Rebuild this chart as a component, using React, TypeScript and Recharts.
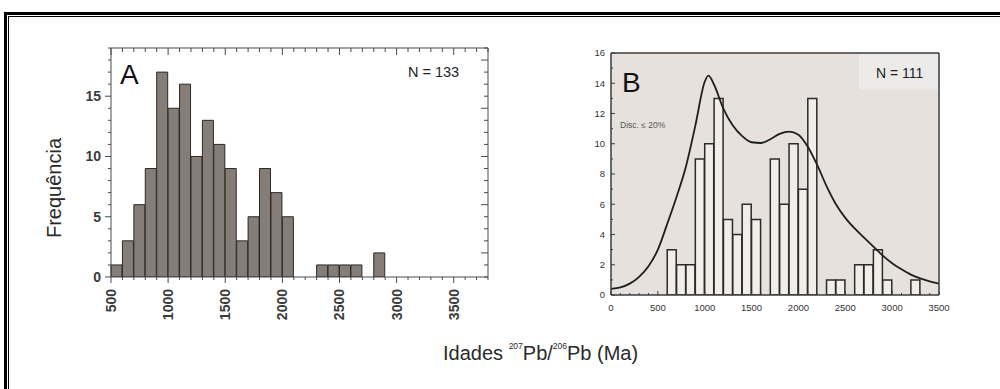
import React from "react";
import { ComposedChart, Bar, Line, XAxis, YAxis, CartesianGrid } from "recharts";

const FONT = "'Liberation Sans', Arial, Helvetica, sans-serif";

// Painel A: classes de 100 Ma a partir de 500 Ma
const binStartsA = [
  500, 600, 700, 800, 900, 1000, 1100, 1200, 1300, 1400, 1500, 1600, 1700, 1800, 1900, 2000, 2100,
  2200, 2300, 2400, 2500, 2600, 2700, 2800, 2900, 3000, 3100, 3200, 3300, 3400, 3500, 3600, 3700,
];
const countsA = [
  1, 3, 6, 9, 17, 14, 16, 10, 13, 11, 9, 3, 5, 9, 7, 5, 0,
  0, 1, 1, 1, 1, 0, 2, 0, 0, 0, 0, 0, 0, 0, 0, 0,
];
const xLabelsA = [500, 1000, 1500, 2000, 2500, 3000, 3500];
const yLabelsA = [0, 5, 10, 15];

// Painel B: classes de 100 Ma a partir de 0
const binStartsB = [
  0, 100, 200, 300, 400, 500, 600, 700, 800, 900, 1000, 1100, 1200, 1300, 1400, 1500, 1600, 1700,
  1800, 1900, 2000, 2100, 2200, 2300, 2400, 2500, 2600, 2700, 2800, 2900, 3000, 3100, 3200, 3300, 3400,
];
const countsB = [
  0, 0, 0, 0, 0, 0, 3, 2, 2, 9, 10, 13, 5, 4, 6, 5, 0, 9,
  6, 10, 7, 13, 0, 1, 1, 0, 2, 2, 3, 1, 0, 0, 1, 0, 0,
];
// curva de densidade de probabilidade (escalada)
const curveAges = [
  0, 100, 200, 300, 400, 500, 600, 700, 800, 900, 1000, 1040, 1100, 1200, 1300, 1400, 1500, 1600,
  1700, 1800, 1900, 2000, 2100, 2200, 2300, 2400, 2500, 2600, 2700, 2800, 2900, 3000, 3100, 3200,
  3300, 3400, 3500,
];
const curveFreq = [
  0.4, 0.5, 0.75, 1.2, 1.9, 3.0, 4.7, 6.5, 8.5, 11.2, 14.1, 14.5, 13.9, 12.3, 11.2, 10.5, 10.1, 10.05,
  10.3, 10.65, 10.8, 10.6, 9.8, 8.6, 7.2, 6.0, 5.1, 4.4, 3.8, 3.2, 2.6, 2.1, 1.7, 1.35,
  1.1, 0.9, 0.75,
];
const xLabelsB = [0, 500, 1000, 1500, 2000, 2500, 3000, 3500];
const yLabelsB = [0, 2, 4, 6, 8, 10, 12, 14, 16];

const dataA = binStartsA.map((b, i) => ({ bin: b, count: countsA[i] }));
const dataB = binStartsB.map((b, i) => ({ bin: b, count: countsB[i] }));
const curveB = curveAges.map((a, i) => ({ age: a, freq: curveFreq[i] }));

const steps = (from: number, to: number, step: number) =>
  Array.from({ length: Math.round((to - from) / step) + 1 }, (_, i) => from + i * step);

const yMinorA = steps(0, 19, 1);
const xMinorB = steps(0, 3500, 100);
const yMinorB = steps(0, 16, 1);

// layout do painel A (px)
const A_W = 500;
const A_H = 340;
const A_LEFT = 111;
const A_TOP = 48;
const A_PLOT_W = 377;
const A_PLOT_H = 229;
const A_BAND = A_PLOT_W / binStartsA.length;

const AXIS_A = "#4a4a4a";
const AXIS_B = "#3d3d3d";

// tick da classe: desenhado no limite esquerdo da classe (em baixo e em cima)
function BinTickA({ x, y, payload, index }: any) {
  const v = payload.value;
  const edges = [{ v, px: x - A_BAND / 2 }];
  if (index === binStartsA.length - 1) edges.push({ v: v + 100, px: x + A_BAND / 2 });
  const top = y - A_PLOT_H;
  return (
    <g>
      {edges.map((e) => {
        const major = e.v % 500 === 0;
        return (
          <g key={e.v}>
            <line x1={e.px} x2={e.px} y1={y} y2={y + (major ? 6 : 3)} stroke={AXIS_A} />
            <line x1={e.px} x2={e.px} y1={top} y2={top + (major ? 7 : 4)} stroke={AXIS_A} />
            {xLabelsA.includes(e.v) && (
              <text
                transform={`translate(${e.px + 5},${y + 12}) rotate(-90)`}
                textAnchor="end"
                fontSize={14}
                fontWeight="bold"
                fill="#3a3a3a"
                fontFamily={FONT}
              >
                {e.v}
              </text>
            )}
          </g>
        );
      })}
    </g>
  );
}

function LeftTickA({ x, y, payload }: any) {
  const major = yLabelsA.includes(payload.value);
  const right = x + A_PLOT_W;
  const rightMajor = payload.value % 4 === 2;
  return (
    <g>
      <line x1={x} x2={x - (major ? 6 : 3)} y1={y} y2={y} stroke={AXIS_A} />
      <line x1={right} x2={right - (rightMajor ? 7 : 4)} y1={y} y2={y} stroke={AXIS_A} />
      {major && (
        <text x={x - 10} y={y + 5} textAnchor="end" fontSize={14} fontWeight="bold" fill="#3a3a3a" fontFamily={FONT}>
          {payload.value}
        </text>
      )}
    </g>
  );
}

function BottomTickB({ x, y, payload }: any) {
  const major = xLabelsB.includes(payload.value);
  return (
    <g>
      <line x1={x} x2={x} y1={y} y2={y - (major ? 4 : 2)} stroke={AXIS_B} />
      {major && (
        <text x={x} y={y + 16} textAnchor="middle" fontSize={9.5} fill="#333" fontFamily={FONT}>
          {payload.value}
        </text>
      )}
    </g>
  );
}

function LeftTickB({ x, y, payload }: any) {
  const major = yLabelsB.includes(payload.value);
  return (
    <g>
      <line x1={x} x2={x + (major ? 4 : 2)} y1={y} y2={y} stroke={AXIS_B} />
      {major && (
        <text x={x - 6} y={y + 3.4} textAnchor="end" fontSize={9.5} fill="#333" fontFamily={FONT}>
          {payload.value}
        </text>
      )}
    </g>
  );
}

function PanelA() {
  return (
    <ComposedChart
      width={A_W}
      height={A_H}
      data={dataA}
      barCategoryGap={0}
      barGap={0}
      margin={{ top: A_TOP - 10, right: A_W - A_LEFT - A_PLOT_W - 10, bottom: A_H - A_TOP - A_PLOT_H - 40, left: A_LEFT - 40 }}
    >
      <XAxis
        xAxisId="cat"
        dataKey="bin"
        type="category"
        interval={0}
        height={40}
        tickSize={0}
        tickMargin={0}
        tickLine={false}
        axisLine={{ stroke: AXIS_A }}
        tick={(p: any) => <BinTickA {...p} />}
      />
      <XAxis xAxisId="top" orientation="top" type="number" domain={[500, 3800]} height={10} tick={false} tickLine={false} axisLine={{ stroke: AXIS_A }} />
      <YAxis
        yAxisId="left"
        type="number"
        domain={[0, 19]}
        allowDataOverflow
        ticks={yMinorA}
        interval={0}
        width={40}
        tickSize={0}
        tickMargin={0}
        tickLine={false}
        axisLine={{ stroke: AXIS_A }}
        tick={(p: any) => <LeftTickA {...p} />}
      />
      <YAxis yAxisId="right" orientation="right" type="number" domain={[0, 19]} width={10} tick={false} tickLine={false} axisLine={{ stroke: AXIS_A }} />
      <Bar
        xAxisId="cat"
        yAxisId="left"
        dataKey="count"
        fill="#857d78"
        stroke="#2e2926"
        strokeWidth={1}
        isAnimationActive={false}
      />
    </ComposedChart>
  );
}

function PanelB() {
  return (
    <ComposedChart
      width={460}
      height={340}
      data={dataB}
      barCategoryGap={0}
      barGap={0}
      margin={{ top: 43, right: 51, bottom: 15, left: 31 }}
    >
      <CartesianGrid xAxisId="num" yAxisId="left" fill="#e6e1dd" horizontal={false} vertical={false} />
      <XAxis xAxisId="cat" dataKey="bin" type="category" hide height={0} />
      <XAxis
        xAxisId="num"
        dataKey="age"
        type="number"
        domain={[0, 3500]}
        allowDataOverflow
        ticks={xMinorB}
        interval={0}
        height={30}
        tickSize={0}
        tickMargin={0}
        tickLine={false}
        axisLine={{ stroke: AXIS_B, strokeWidth: 1.5 }}
        tick={(p: any) => <BottomTickB {...p} />}
      />
      <XAxis xAxisId="top" orientation="top" type="number" domain={[0, 3500]} height={10} tick={false} tickLine={false} axisLine={{ stroke: AXIS_B, strokeWidth: 1.5 }} />
      <YAxis
        yAxisId="left"
        type="number"
        domain={[0, 16]}
        allowDataOverflow
        ticks={yMinorB}
        interval={0}
        width={40}
        tickSize={0}
        tickMargin={0}
        tickLine={false}
        axisLine={{ stroke: AXIS_B, strokeWidth: 1.5 }}
        tick={(p: any) => <LeftTickB {...p} />}
      />
      <YAxis yAxisId="right" orientation="right" type="number" domain={[0, 16]} width={10} tick={false} tickLine={false} axisLine={{ stroke: AXIS_B, strokeWidth: 1.5 }} />
      <Bar
        xAxisId="cat"
        yAxisId="left"
        dataKey="count"
        fill="#f1eeea"
        stroke="#2b2b2b"
        strokeWidth={1.5}
        isAnimationActive={false}
      />
      <Line
        xAxisId="num"
        yAxisId="left"
        data={curveB}
        dataKey="freq"
        type="monotone"
        stroke="#1e1e1e"
        strokeWidth={1.8}
        dot={false}
        activeDot={false}
        isAnimationActive={false}
      />
    </ComposedChart>
  );
}

export default function App() {
  return (
    <div style={{ position: "absolute", left: 0, top: 0, width: 1000, height: 389, overflow: "hidden", background: "#fff" }}>
      <div
        style={{
          position: "absolute",
          left: 4,
          top: 12,
          width: 1010,
          height: 400,
          border: "3px solid #000",
          boxSizing: "border-box",
        }}
      >
        <div style={{ position: "absolute", left: 1, top: 1, right: 1, bottom: 1, border: "1px solid #000" }} />
      </div>
      <div style={{ position: "absolute", left: 0, top: 0 }}>
        <PanelA />
      </div>
      <div style={{ position: "absolute", left: 540, top: 0 }}>
        <PanelB />
      </div>
      <svg
        width={1000}
        height={389}
        style={{ position: "absolute", left: 0, top: 0, pointerEvents: "none" }}
        fontFamily={FONT}
      >
        <text x={120} y={84} fontSize={28} fill="#111">A</text>
        <text x={408} y={77} fontSize={14.5} fill="#222">N = 133</text>
        <text x={622} y={92} fontSize={28} fill="#111">B</text>
        <rect x={859} y={54.5} width={79} height={35} fill="#ecebea" />
        <text x={876} y={78} fontSize={14} fill="#222">N = 111</text>
        <text x={620} y={128} fontSize={8.5} fill="#555">Disc. ≤ 20%</text>
        <text transform="translate(61,188) rotate(-90)" textAnchor="middle" fontSize={20} fill="#2a2a2a">
          Frequência
        </text>
        <text x={443} y={360} fontSize={20} fill="#2a2a2a">
          Idades{" "}
          <tspan fontSize={8.5} dy={-11}>207</tspan>
          <tspan dy={11}>Pb/</tspan>
          <tspan fontSize={8.5} dy={-11}>206</tspan>
          <tspan dy={11}>Pb (Ma)</tspan>
        </text>
      </svg>
    </div>
  );
}
